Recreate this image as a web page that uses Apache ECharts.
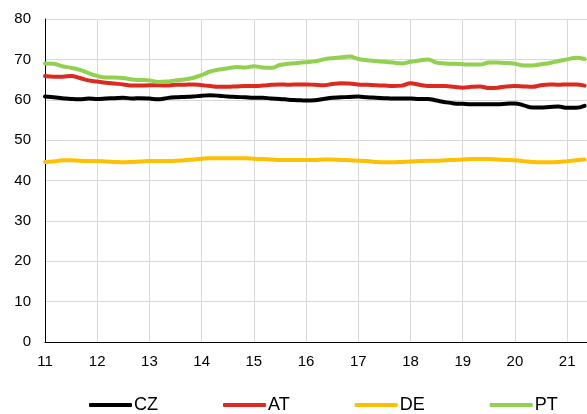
<!DOCTYPE html>
<html>
<head>
<meta charset="utf-8">
<script src="https://cdn.jsdelivr.net/npm/echarts@6/dist/echarts.min.js"></script>
<style>html,body{margin:0;padding:0;background:#fff;}#c{width:587px;height:414px;}</style>
</head>
<body>
<div id="c"></div>
<script>
// time points: every 2 months starting at 2011 (labels are 2-digit years)
var start = 11, step = 1 / 6;
var CZ = [60.8,60.6,60.4,60.2,60.1,60.3,60.2,60.3,60.4,60.5,60.3,60.4,60.3,60.1,60.4,60.6,60.7,60.8,61.0,61.1,61.0,60.8,60.7,60.6,60.5,60.5,60.3,60.2,60.0,59.9,59.8,59.9,60.2,60.5,60.6,60.7,60.8,60.6,60.5,60.4,60.3,60.3,60.3,60.2,60.2,59.8,59.4,59.1,59.0,58.9,58.9,58.9,58.9,59.0,59.1,58.6,58.1,58.1,58.2,58.3,58.0,58.0,58.5];
var AT = [65.9,65.7,65.7,65.9,65.4,64.8,64.5,64.2,64.0,63.8,63.5,63.5,63.6,63.6,63.5,63.7,63.7,63.8,63.6,63.4,63.2,63.2,63.3,63.4,63.4,63.5,63.7,63.8,63.7,63.8,63.8,63.7,63.6,63.9,64.1,64.0,63.8,63.7,63.6,63.5,63.4,63.5,64.1,63.7,63.4,63.4,63.4,63.2,63.0,63.2,63.3,62.9,63.0,63.3,63.4,63.3,63.2,63.6,63.8,63.7,63.8,63.8,63.5];
var DE = [44.6,44.7,45.0,45.0,44.9,44.8,44.8,44.7,44.6,44.5,44.6,44.7,44.8,44.8,44.8,44.9,45.0,45.2,45.4,45.5,45.5,45.5,45.5,45.5,45.4,45.3,45.2,45.1,45.1,45.1,45.1,45.1,45.2,45.2,45.1,45.0,44.9,44.8,44.6,44.5,44.5,44.6,44.7,44.8,44.9,44.9,45.0,45.1,45.2,45.3,45.3,45.3,45.2,45.1,45.0,44.8,44.6,44.5,44.5,44.6,44.8,45.0,45.2];
var PT = [69.0,68.9,68.3,67.9,67.4,66.6,65.9,65.5,65.5,65.4,65.0,64.9,64.8,64.4,64.5,64.8,65.0,65.4,66.1,67.0,67.5,67.8,68.1,68.0,68.3,68.0,67.9,68.6,68.9,69.1,69.3,69.5,70.0,70.3,70.5,70.7,70.1,69.8,69.6,69.4,69.2,69.0,69.4,69.7,70.0,69.2,69.0,68.9,68.8,68.7,68.7,69.2,69.2,69.1,68.9,68.5,68.5,68.8,69.1,69.6,70.0,70.4,70.1];
var names = ['CZ', 'AT', 'DE', 'PT'];
var colors = ['#000000', '#dc2a20', '#ffc000', '#92d050'];
var values = [CZ, AT, DE, PT];

function pairs(arr) {
  return arr.map(function (v, i) { return [start + i * step, v]; });
}

var chart = echarts.init(document.getElementById('c'), null, { renderer: 'canvas' });
var font = 'Liberation Sans, Arial, sans-serif';
chart.setOption({
  animation: false,
  backgroundColor: '#ffffff',
  color: colors,
  grid: { left: 45, right: 0, top: 19, bottom: 72, containLabel: false },
  legend: {
    bottom: 0,
    left: 89,
    padding: 0,
    itemWidth: 43,
    itemHeight: 4,
    itemGap: 65,
    icon: 'roundRect',
    data: names,
    textStyle: { fontFamily: font, fontSize: 18, color: '#000', padding: [0, 0, 0, -3] }
  },
  xAxis: {
    type: 'value',
    min: 11,
    max: 21.38,
    interval: 1,
    axisLine: { show: true, lineStyle: { color: '#000', width: 1 } },
    axisTick: { show: false },
    splitLine: { show: true, lineStyle: { color: '#d9d9d9', width: 1 } },
    axisLabel: { fontFamily: font, fontSize: 15, color: '#000', margin: 12, showMaxLabel: false }
  },
  yAxis: {
    type: 'value',
    min: 0,
    max: 80,
    interval: 10,
    axisLine: { show: true, lineStyle: { color: '#000', width: 1 } },
    axisTick: { show: false },
    splitLine: { show: true, lineStyle: { color: '#d9d9d9', width: 1 } },
    axisLabel: { fontFamily: font, fontSize: 15, color: '#000', margin: 14 }
  },
  series: values.map(function (arr, i) {
    return {
      name: names[i],
      type: 'line',
      data: pairs(arr),
      showSymbol: false,
      symbol: 'none',
      smooth: 0.4,
      lineStyle: { width: 4, color: colors[i], cap: 'round', join: 'round' },
      itemStyle: { color: colors[i] }
    };
  })
});
</script>
</body>
</html>
